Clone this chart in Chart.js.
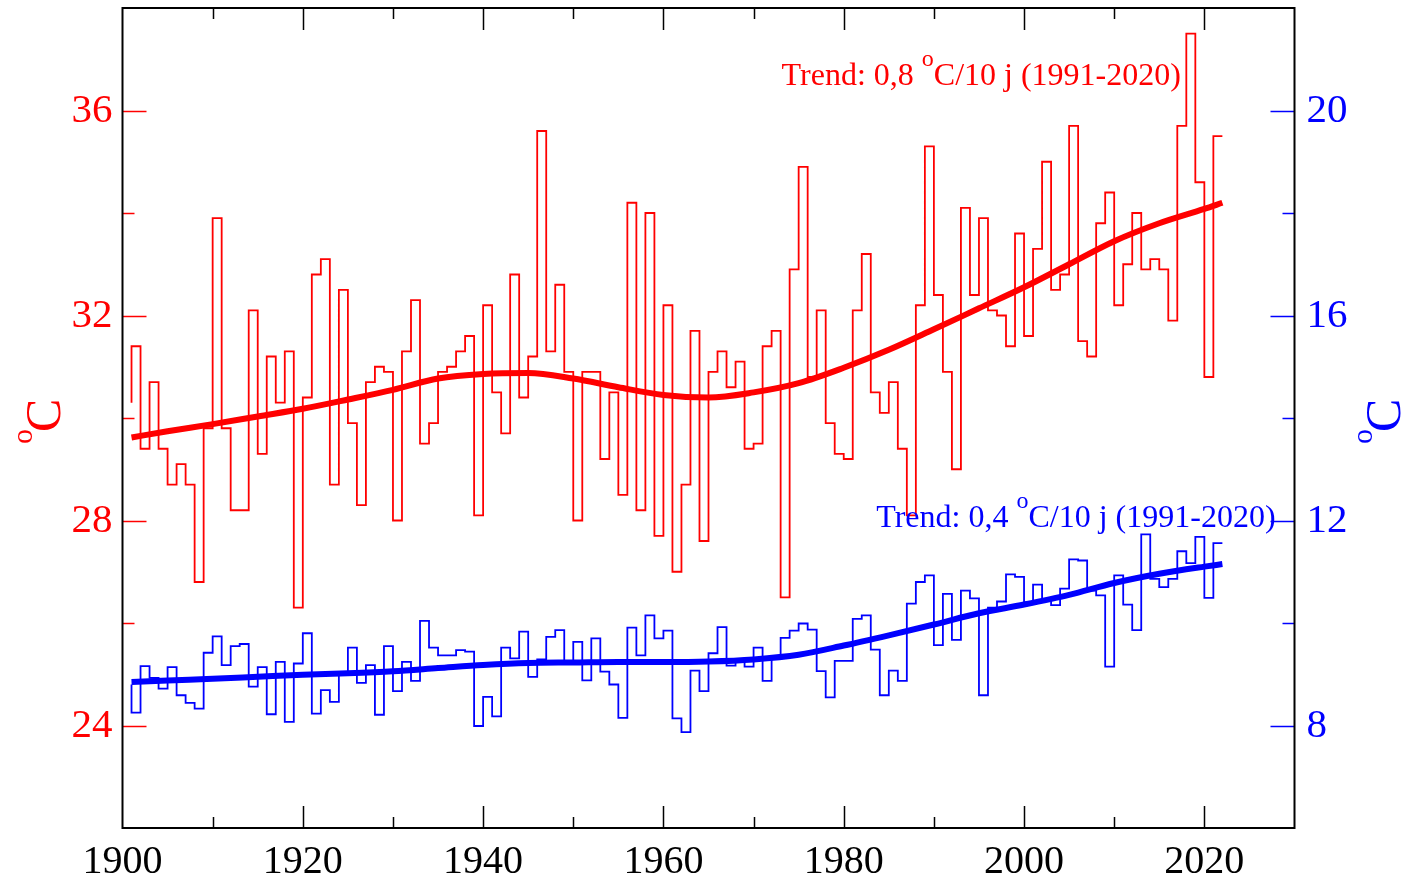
<!DOCTYPE html>
<html>
<head>
<meta charset="utf-8">
<script src="https://cdn.jsdelivr.net/npm/chart.js@4/dist/chart.umd.min.js"></script>
<style>
body { margin: 0; background: #fff; }
canvas { display: block; }
</style>
</head>
<body>
<canvas id="chart" width="1404" height="875"></canvas>
<script>
var years = [
    1901, 1902, 1903, 1904, 1905, 1906, 1907, 1908, 1909, 1910,
    1911, 1912, 1913, 1914, 1915, 1916, 1917, 1918, 1919, 1920,
    1921, 1922, 1923, 1924, 1925, 1926, 1927, 1928, 1929, 1930,
    1931, 1932, 1933, 1934, 1935, 1936, 1937, 1938, 1939, 1940,
    1941, 1942, 1943, 1944, 1945, 1946, 1947, 1948, 1949, 1950,
    1951, 1952, 1953, 1954, 1955, 1956, 1957, 1958, 1959, 1960,
    1961, 1962, 1963, 1964, 1965, 1966, 1967, 1968, 1969, 1970,
    1971, 1972, 1973, 1974, 1975, 1976, 1977, 1978, 1979, 1980,
    1981, 1982, 1983, 1984, 1985, 1986, 1987, 1988, 1989, 1990,
    1991, 1992, 1993, 1994, 1995, 1996, 1997, 1998, 1999, 2000,
    2001, 2002, 2003, 2004, 2005, 2006, 2007, 2008, 2009, 2010,
    2011, 2012, 2013, 2014, 2015, 2016, 2017, 2018, 2019, 2020,
    2021, 2022
];

// hoogste temperatuur van het jaar (linker as)
var maxTemp = [
    30.3, 31.4, 29.4, 30.7, 29.4, 28.7, 29.1, 28.7, 26.8, 29.8,
    33.9, 29.8, 28.2, 28.2, 32.1, 29.3, 31.2, 30.3, 31.3, 26.3,
    30.4, 32.8, 33.1, 28.7, 32.5, 29.9, 28.3, 30.7, 31.0, 30.9,
    28.0, 31.3, 32.3, 29.5, 29.9, 30.9, 31.0, 31.3, 31.6, 28.1,
    32.2, 30.5, 29.7, 32.8, 30.4, 31.2, 35.6, 31.3, 32.6, 30.9,
    28.0, 30.9, 30.9, 29.2, 30.5, 28.5, 34.2, 28.2, 34.0, 27.7,
    32.2, 27.0, 28.7, 31.7, 27.6, 30.9, 31.3, 30.6, 31.1, 29.4,
    29.5, 31.4, 31.7, 26.5, 32.9, 34.9, 30.8, 32.1, 29.9, 29.3,
    29.2, 32.1, 33.2, 30.5, 30.1, 30.7, 29.4, 28.1, 32.2, 35.3,
    32.4, 30.9, 29.0, 34.1, 32.4, 33.9, 32.1, 32.0, 31.4, 33.6,
    31.6, 33.3, 35.0, 32.5, 32.8, 35.7, 31.5, 31.2, 33.8, 34.4,
    32.2, 33.0, 34.0, 32.9, 33.1, 32.9, 31.9, 35.7, 37.5, 34.6,
    30.8, 35.5
];

// jaargemiddelde temperatuur (rechter as)
var meanTemp = [
    8.80, 8.25, 9.16, 8.93, 8.72, 9.14, 8.59, 8.44, 8.33, 9.42,
    9.74, 9.18, 9.55, 9.59, 8.76, 9.14, 8.22, 9.24, 8.07, 9.21,
    9.80, 8.23, 8.69, 8.46, 9.00, 9.52, 8.83, 9.18, 8.21, 9.55,
    8.67, 9.24, 8.87, 10.04, 9.52, 9.37, 9.37, 9.47, 9.44, 7.99,
    8.56, 8.18, 9.52, 9.31, 9.83, 8.95, 9.29, 9.73, 9.86, 9.26,
    9.63, 8.88, 9.70, 9.05, 8.80, 8.15, 9.91, 9.37, 10.15, 9.70,
    9.85, 8.14, 7.87, 9.07, 8.67, 9.41, 9.92, 9.17, 9.26, 9.15,
    9.52, 8.87, 9.30, 9.71, 9.85, 9.99, 9.87, 9.06, 8.55, 9.26,
    9.26, 10.08, 10.15, 9.48, 8.59, 9.07, 8.87, 10.38, 10.80, 10.93,
    9.57, 10.57, 9.67, 10.63, 10.48, 8.59, 10.30, 10.42, 10.95, 10.90,
    10.40, 10.75, 10.46, 10.35, 10.67, 11.24, 11.22, 10.63, 10.54, 9.15,
    10.93, 10.36, 9.86, 11.73, 10.86, 10.70, 10.86, 11.40, 11.17, 11.68,
    10.49, 11.56
];

// gladgestreken trendlijnen
var trendYears = [1901, 1905, 1910, 1915, 1920, 1925, 1930, 1935, 1940, 1945, 1950, 1955, 1960,
                  1965, 1970, 1975, 1980, 1985, 1990, 1995, 2000, 2005, 2010, 2015, 2020, 2022];
var maxTrend = [29.62, 29.74, 29.88, 30.03, 30.18, 30.36, 30.55, 30.77, 30.86, 30.88, 30.77, 30.60, 30.45,
                30.40, 30.50, 30.68, 30.98, 31.33, 31.73, 32.14, 32.55, 33.00, 33.45, 33.80, 34.08, 34.20];
var meanTrend = [8.85, 8.88, 8.91, 8.95, 8.99, 9.02, 9.06, 9.12, 9.18, 9.22, 9.23, 9.24, 9.24,
                 9.25, 9.29, 9.38, 9.56, 9.76, 9.97, 10.19, 10.36, 10.55, 10.78, 10.96, 11.10, 11.15];

var xTicksMajor = [1920, 1940, 1960, 1980, 2000, 2020];
var xTicksMinor = [1910, 1930, 1950, 1970, 1990, 2010];
var leftTicksMajor = [24, 28, 32, 36];
var leftTicksMinor = [26, 30, 34];
var rightTicksMajor = [8, 12, 16, 20];
var rightTicksMinor = [10, 14, 18];

var maxLabel = ['Trend: 0,8 ', 'o', 'C/10 j (1991-2020)'];
var meanLabel = ['Trend: 0,4 ', 'o', 'C/10 j (1991-2020)'];

var RED = '#ff0000';
var BLUE = '#0000ff';
var serif = '"Liberation Serif", "Times New Roman", Times, serif';

function points(xs, ys) {
    return xs.map(function (x, i) { return { x: x, y: ys[i] }; });
}

// geen extra ruimte voor labels buiten het plotvlak
function noPad(s) {
    s.paddingTop = 0;
    s.paddingBottom = 0;
    s.paddingLeft = 0;
    s.paddingRight = 0;
}

// tekst met superscript "o"
function drawDegreeText(ctx, parts, x, y, size, supSize, rise, color) {
    ctx.fillStyle = color;
    ctx.textBaseline = 'alphabetic';
    ctx.textAlign = 'left';
    ctx.font = size + 'px ' + serif;
    ctx.fillText(parts[0], x, y);
    x += ctx.measureText(parts[0]).width;
    ctx.font = supSize + 'px ' + serif;
    ctx.fillText(parts[1], x, y - rise);
    x += ctx.measureText(parts[1]).width;
    ctx.font = size + 'px ' + serif;
    ctx.fillText(parts[2], x, y);
}

function drawAxisTitle(ctx, x, y, color) {
    ctx.save();
    ctx.translate(x, y);
    ctx.rotate(-Math.PI / 2);
    ctx.fillStyle = color;
    ctx.textAlign = 'left';
    ctx.textBaseline = 'alphabetic';
    ctx.font = '30px ' + serif;
    ctx.fillText('o', 0, -28);
    var w = ctx.measureText('o').width;
    ctx.font = '50px ' + serif;
    ctx.fillText('C', w - 3, 0);
    ctx.restore();
}

var framePlugin = {
    id: 'frame',
    afterDatasetsDraw: function (chart) {
        var ctx = chart.ctx;
        var a = chart.chartArea;
        var sx = chart.scales.x, sy = chart.scales.y, sy2 = chart.scales.y2;
        ctx.save();
        ctx.lineWidth = 1.5;

        ctx.strokeStyle = '#000';
        xTicksMajor.concat(xTicksMinor).forEach(function (v) {
            var len = xTicksMajor.indexOf(v) >= 0 ? 22 : 11;
            var px = Math.round(sx.getPixelForValue(v)) + 0.5;
            ctx.beginPath();
            ctx.moveTo(px, a.bottom); ctx.lineTo(px, a.bottom - len);
            ctx.moveTo(px, a.top); ctx.lineTo(px, a.top + len);
            ctx.stroke();
        });

        ctx.strokeStyle = RED;
        leftTicksMajor.concat(leftTicksMinor).forEach(function (v) {
            var len = leftTicksMajor.indexOf(v) >= 0 ? 24 : 12;
            var py = Math.round(sy.getPixelForValue(v)) + 0.5;
            ctx.beginPath();
            ctx.moveTo(a.left, py); ctx.lineTo(a.left + len, py);
            ctx.stroke();
        });

        ctx.strokeStyle = BLUE;
        rightTicksMajor.concat(rightTicksMinor).forEach(function (v) {
            var len = rightTicksMajor.indexOf(v) >= 0 ? 24 : 12;
            var py = Math.round(sy2.getPixelForValue(v)) + 0.5;
            ctx.beginPath();
            ctx.moveTo(a.right, py); ctx.lineTo(a.right - len, py);
            ctx.stroke();
        });

        ctx.lineWidth = 2;
        ctx.strokeStyle = '#000';
        ctx.strokeRect(a.left, a.top, a.right - a.left, a.bottom - a.top);

        // waarden langs de y-assen
        ctx.font = '41px ' + serif;
        ctx.textBaseline = 'middle';
        ctx.textAlign = 'right';
        ctx.fillStyle = RED;
        leftTicksMajor.forEach(function (v) {
            ctx.fillText(String(v), a.left - 10, sy.getPixelForValue(v) + 1);
        });
        ctx.textAlign = 'left';
        ctx.fillStyle = BLUE;
        rightTicksMajor.forEach(function (v) {
            ctx.fillText(String(v), a.right + 12, sy2.getPixelForValue(v) + 1);
        });

        drawDegreeText(ctx, maxLabel, sx.getPixelForValue(2017.7) - 402, sy.getPixelForValue(36.5), 32, 24, 19, RED);
        drawDegreeText(ctx, meanLabel, sx.getPixelForValue(2028.2) - 402, sy2.getPixelForValue(11.87), 32, 24, 19, BLUE);

        drawAxisTitle(ctx, 60, 444, RED);
        drawAxisTitle(ctx, 1400, 444, BLUE);
        ctx.restore();
    }
};

var ctx = document.getElementById('chart').getContext('2d');
var chart = new Chart(ctx, {
    type: 'line',
    data: {
        datasets: [{
            label: 'trend max',
            data: points(trendYears, maxTrend),
            yAxisID: 'y',
            borderColor: RED,
            borderWidth: 6,
            pointRadius: 0,
            fill: false,
            cubicInterpolationMode: 'monotone',
            order: 0
        }, {
            label: 'trend gem',
            data: points(trendYears, meanTrend),
            yAxisID: 'y2',
            borderColor: BLUE,
            borderWidth: 6,
            pointRadius: 0,
            fill: false,
            cubicInterpolationMode: 'monotone',
            order: 0
        }, {
            label: 'max',
            data: points(years, maxTemp),
            yAxisID: 'y',
            borderColor: RED,
            borderWidth: 1.8,
            pointRadius: 0,
            fill: false,
            stepped: 'after',
            order: 1
        }, {
            label: 'gem',
            data: points(years, meanTemp),
            yAxisID: 'y2',
            borderColor: BLUE,
            borderWidth: 1.8,
            pointRadius: 0,
            fill: false,
            stepped: 'after',
            order: 1
        }]
    },
    options: {
        responsive: false,
        animation: false,
        devicePixelRatio: 1,
        layout: { padding: { top: 8, left: 0, right: 0, bottom: 0 } },
        plugins: {
            legend: { display: false },
            tooltip: { enabled: false }
        },
        scales: {
            x: {
                type: 'linear',
                min: 1900,
                max: 2030,
                afterFit: function (s) { s.height = 47; noPad(s); },
                grid: { display: false },
                border: { display: false },
                ticks: {
                    stepSize: 10,
                    autoSkip: false,
                    maxRotation: 0,
                    padding: 2,
                    color: '#000',
                    font: { family: serif, size: 40 },
                    callback: function (v) { return v % 20 === 0 ? String(v) : ''; }
                }
            },
            y: {
                position: 'left',
                min: 22,
                max: 38,
                afterFit: function (s) { s.width = 122.5; noPad(s); },
                grid: { display: false },
                border: { display: false },
                ticks: { display: false, stepSize: 2 }
            },
            y2: {
                position: 'right',
                min: 6,
                max: 22,
                afterFit: function (s) { s.width = 109.5; noPad(s); },
                grid: { display: false },
                border: { display: false },
                ticks: { display: false, stepSize: 2 }
            }
        }
    },
    plugins: [framePlugin]
});
</script>
</body>
</html>
